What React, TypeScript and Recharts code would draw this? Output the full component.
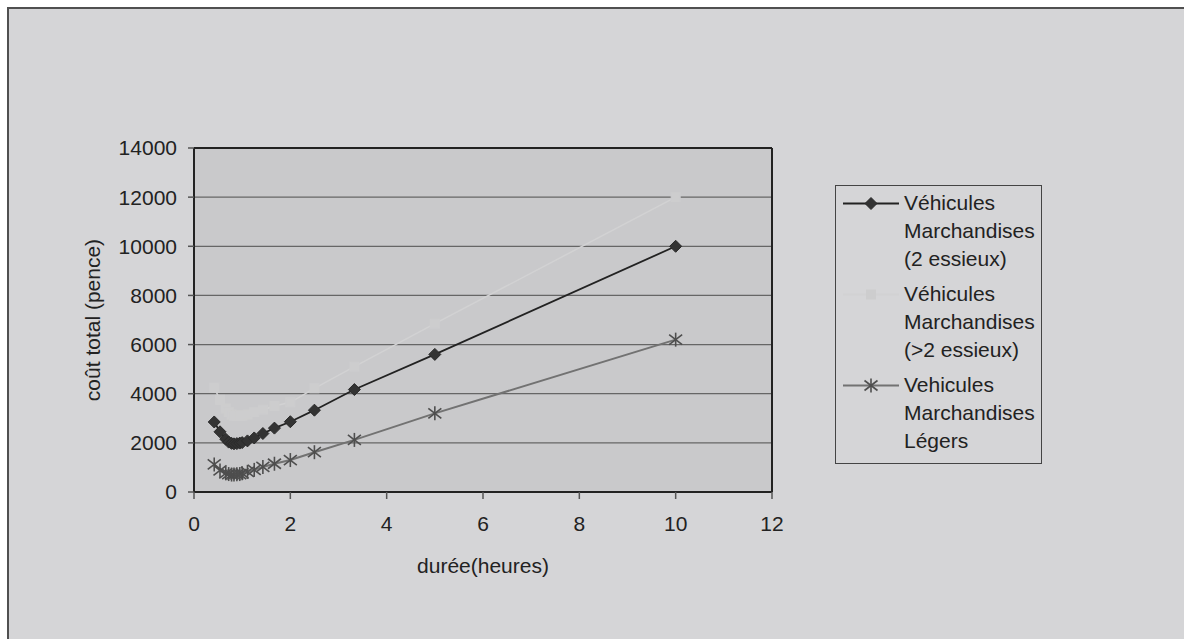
import React from 'react';
import { LineChart, Line, XAxis, YAxis, CartesianGrid, Legend, ReferenceLine } from 'recharts';

const FONT = '"Liberation Sans", Arial, Helvetica, sans-serif';

// durée (heures)
const durations = [0.42, 0.54, 0.66, 0.72, 0.78, 0.83, 0.89, 0.95, 1.0, 1.11, 1.25, 1.43, 1.67, 2.0, 2.5, 3.33, 5, 10];
// coût total (pence)
const vm2Essieux = [2850, 2450, 2150, 2030, 1980, 1960, 1970, 1990, 2010, 2080, 2200, 2380, 2600, 2860, 3330, 4170, 5600, 10000];
const vmPlus2Essieux = [4250, 3750, 3400, 3250, 3150, 3100, 3100, 3100, 3100, 3150, 3250, 3350, 3500, 3650, 4220, 5100, 6850, 12000];
const vmLegers = [1120, 880, 760, 730, 710, 710, 720, 730, 760, 820, 900, 1020, 1150, 1300, 1620, 2120, 3200, 6200];

const xTicks = [0, 2, 4, 6, 8, 10, 12];
const yTicks = [0, 2000, 4000, 6000, 8000, 10000, 12000, 14000];

const seriesLabels = [
  ['Véhicules', 'Marchandises', '(2 essieux)'],
  ['Véhicules', 'Marchandises', '(>2 essieux)'],
  ['Vehicules', 'Marchandises', 'Légers'],
];

const COLORS = { a: '#222222', b: '#d2d2d3', c: '#727272' };

const data = durations.map((d, i) => ({
  duree: d,
  a: vm2Essieux[i],
  b: vmPlus2Essieux[i],
  c: vmLegers[i],
}));

const diamondShape = (cx: number, cy: number, k?: string) => (
  <polygon
    key={k}
    points={`${cx},${cy - 6} ${cx + 6},${cy} ${cx},${cy + 6} ${cx - 6},${cy}`}
    fill="#333333"
    stroke="#2a2a2a"
    strokeWidth={1}
  />
);
const squareShape = (cx: number, cy: number, k?: string) => (
  <rect key={k} x={cx - 4.5} y={cy - 4.5} width={9} height={9} fill="#cdcdce" stroke="#cdcdce" />
);
const starShape = (cx: number, cy: number, k?: string) => (
  <g key={k} stroke="#4e4e4e" strokeWidth={1.6}>
    <line x1={cx} y1={cy - 7} x2={cx} y2={cy + 7} />
    <line x1={cx - 6.5} y1={cy - 5} x2={cx + 6.5} y2={cy + 5} />
    <line x1={cx - 6.5} y1={cy + 5} x2={cx + 6.5} y2={cy - 5} />
  </g>
);

const DiamondDot = (props: any) => {
  const { cx, cy, index } = props;
  if (cx == null || cy == null) return <g key={`da-${index}`} />;
  return diamondShape(cx, cy, `da-${index}`);
};
const SquareDot = (props: any) => {
  const { cx, cy, index } = props;
  if (cx == null || cy == null) return <g key={`sb-${index}`} />;
  return squareShape(cx, cy, `sb-${index}`);
};
const StarDot = (props: any) => {
  const { cx, cy, index } = props;
  if (cx == null || cy == null) return <g key={`sc-${index}`} />;
  return starShape(cx, cy, `sc-${index}`);
};

const legendEntries = [
  { color: COLORS.a, width: 2, shape: diamondShape, lines: seriesLabels[0] },
  { color: COLORS.b, width: 2, shape: squareShape, lines: seriesLabels[1] },
  { color: COLORS.c, width: 2, shape: starShape, lines: seriesLabels[2] },
];

const LegendBox = () => (
  <div
    style={{
      width: 207,
      height: 279,
      boxSizing: 'border-box',
      border: '1.5px solid #444',
      position: 'relative',
      fontFamily: FONT,
      fontSize: 21,
      color: '#222',
      background: '#d5d5d7',
    }}
  >
    {legendEntries.map((e, i) => (
      <div key={i} style={{ position: 'absolute', left: 0, top: 3 + i * 91, width: '100%', height: 84 }}>
        <svg style={{ position: 'absolute', left: 6, top: 0 }} width={58} height={28}>
          <line x1={1} x2={57} y1={14.5} y2={14.5} stroke={e.color} strokeWidth={e.width} />
          {e.shape(29, 14.5)}
        </svg>
        <div style={{ position: 'absolute', left: 68, top: 0, lineHeight: '28px', whiteSpace: 'nowrap' }}>
          {e.lines.map((l, j) => (
            <div key={j}>{l}</div>
          ))}
        </div>
      </div>
    ))}
  </div>
);

export default function App() {
  return (
    <div style={{ position: 'absolute', left: 0, top: 0, width: 1184, height: 639, overflow: 'hidden', background: '#ffffff' }}>
      <div
        style={{
          position: 'absolute',
          left: 7,
          top: 7,
          width: 1300,
          height: 800,
          borderLeft: '2px solid #505050',
          borderTop: '2px solid #505050',
          background: '#d5d5d7',
        }}
      />
      <div style={{ position: 'absolute', left: 0, top: 0 }}>
        <LineChart width={1184} height={639} data={data} margin={{ top: 148, right: 412, bottom: 0, left: 0 }}>
          <CartesianGrid vertical={false} fill="#c9c9cb" stroke="#666666" strokeWidth={1.2} />
          <XAxis
            dataKey="duree"
            type="number"
            domain={[0, 12]}
            ticks={xTicks}
            height={147}
            tickSize={7}
            tickMargin={17}
            axisLine={{ stroke: '#222', strokeWidth: 2 }}
            tickLine={{ stroke: '#555', strokeWidth: 1.5 }}
            tick={{ fill: '#222', fontSize: 21, fontFamily: FONT }}
            allowDataOverflow
            label={{ value: 'durée(heures)', position: 'insideTop', offset: 66, fill: '#222', fontSize: 21, fontFamily: FONT }}
          />
          <YAxis
            type="number"
            domain={[0, 14000]}
            ticks={yTicks}
            width={194}
            tickSize={6}
            tickMargin={11}
            axisLine={{ stroke: '#222', strokeWidth: 2 }}
            tickLine={{ stroke: '#555', strokeWidth: 1.5 }}
            tick={{ fill: '#222', fontSize: 21, fontFamily: FONT }}
            allowDataOverflow
            label={{
              value: 'coût total (pence)',
              angle: -90,
              position: 'insideLeft',
              offset: 93,
              fill: '#222',
              fontSize: 21,
              fontFamily: FONT,
              style: { textAnchor: 'middle' },
            }}
          />
          <ReferenceLine y={14000} stroke="#222" strokeWidth={2} />
          <ReferenceLine x={12} stroke="#222" strokeWidth={2} />
          <Line
            dataKey="a"
            name={seriesLabels[0].join(' ')}
            type="linear"
            stroke={COLORS.a}
            strokeWidth={1.8}
            dot={DiamondDot}
            activeDot={false}
            isAnimationActive={false}
          />
          <Line
            dataKey="b"
            name={seriesLabels[1].join(' ')}
            type="linear"
            stroke={COLORS.b}
            strokeWidth={1.5}
            dot={SquareDot}
            activeDot={false}
            isAnimationActive={false}
          />
          <Line
            dataKey="c"
            name={seriesLabels[2].join(' ')}
            type="linear"
            stroke={COLORS.c}
            strokeWidth={2}
            dot={StarDot}
            activeDot={false}
            isAnimationActive={false}
          />
          <Legend
            layout="vertical"
            align="center"
            verticalAlign="middle"
            content={<LegendBox />}
            wrapperStyle={{ left: 835, top: 185, width: 207, height: 279 }}
          />
        </LineChart>
      </div>
    </div>
  );
}
